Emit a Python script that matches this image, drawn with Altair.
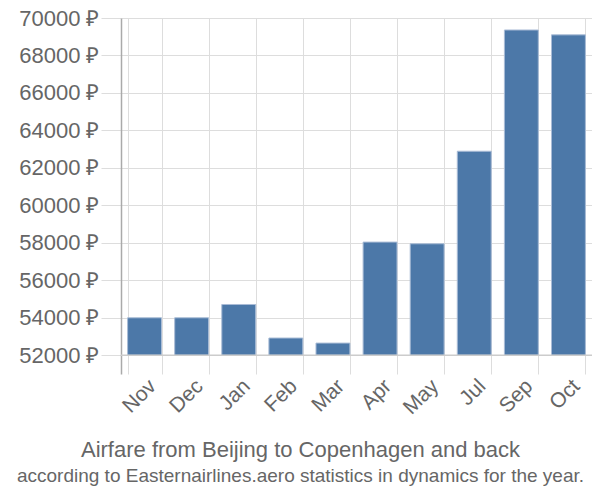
import altair as alt
import pandas as pd

months = ["Nov", "Dec", "Jan", "Feb", "Mar", "Apr", "May", "Jul", "Sep", "Oct"]
prices = [54000, 54000, 54710, 52920, 52650, 58040, 57950, 62890, 69360, 69100]
base_value = [52000]
y_ticks = [52000, 54000, 56000, 58000, 60000, 62000, 64000, 66000, 68000, 70000]

df = pd.DataFrame({"month": months, "price": prices})
base_df = pd.DataFrame({"base": base_value})

FONT = "Liberation Sans"
GRAY = "#666666"

x = alt.X(
    "month:N",
    sort=months,
    scale=alt.Scale(paddingInner=0.28, paddingOuter=0.14),
    axis=alt.Axis(
        title=None,
        grid=True,
        tickBand="extent",
        gridColor="#dddddd",
        domain=False,
        ticks=False,
        labelAngle=-45,
        labelFontSize=21,
        labelFont=FONT,
        labelColor=GRAY,
        labelPadding=1,
    ),
)
y_scale = alt.Scale(domain=[51000, 70000], nice=False, zero=False)


def y_axis():
    return alt.Axis(
        title=None,
        values=y_ticks,
        labelExpr="datum.value + ' ₽'",
        labelOverlap=False,
        grid=True,
        gridColor="#dddddd",
        domain=True,
        domainColor="#aaaaaa",
        domainWidth=1.5,
        tickSize=20,
        tickColor="#dddddd",
        labelPadding=2,
        labelFontSize=22,
        labelFont=FONT,
        labelColor=GRAY,
    )


bars = alt.Chart(df).mark_bar(
    color="#4c78a8", stroke="#a9bcd6", strokeWidth=1
).encode(
    x=x,
    y=alt.Y("price:Q", scale=y_scale, axis=y_axis()),
    y2=alt.datum(52000),
)

rule = alt.Chart(base_df).mark_rule(color="#cccccc", strokeWidth=1.5).encode(
    y=alt.Y("base:Q", scale=y_scale, axis=y_axis())
)

chart = (
    alt.layer(bars, rule)
    .properties(
        width=471,
        height=356,
        autosize=alt.AutoSizeParams(type="none"),
        padding={"left": 113, "top": 10, "right": 0, "bottom": 118},
        title=alt.TitleParams(
            text="Airfare from Beijing to Copenhagen and back",
            subtitle="according to Easternairlines.aero statistics in dynamics for the year.",
            orient="bottom",
            anchor="middle",
            dx=-56,
            offset=22,
            fontSize=22,
            subtitleFontSize=19,
            font=FONT,
            subtitleFont=FONT,
            color=GRAY,
            subtitleColor=GRAY,
            fontWeight="normal",
            subtitlePadding=5,
        ),
    )
    .configure_view(stroke=None)
    .configure_axisY(labelOverlap=False)
)

chart.save("out.html", embed_options={"renderer": "svg", "actions": False})
